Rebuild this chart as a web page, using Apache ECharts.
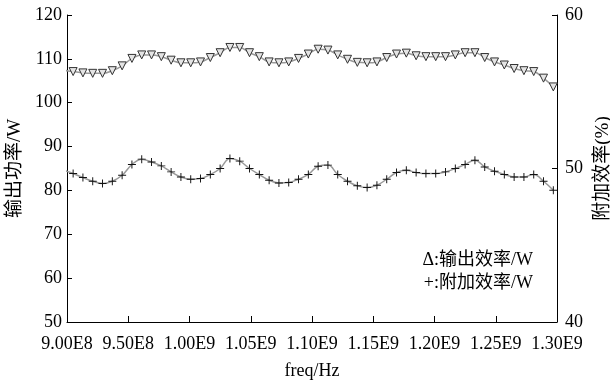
<!DOCTYPE html>
<html><head><meta charset="utf-8">
<script src="https://cdn.jsdelivr.net/npm/echarts@6/dist/echarts.min.js"></script>
<style>html,body{margin:0;padding:0;background:#fff}#c{width:610px;height:384px}</style>
</head><body><div id="c"></div>
<script>
var freqMHz = [897,905,913,921,929,937,945,953,961,969,977,985,993,1001,1009,1017,1025,1033,1041,1049,1057,1065,1073,1081,1089,1097,1105,1113,1121,1129,1137,1145,1153,1161,1169,1177,1185,1193,1201,1209,1217,1225,1233,1241,1249,1257,1265,1273,1281,1289,1297];
var outputPower = [107.4,107.1,106.8,106.7,106.7,107.3,108.4,110.1,110.9,110.9,110.5,109.7,109.1,109.1,109.3,110.3,111.4,112.6,112.6,111.4,110.5,109.3,109.1,109.3,110.1,111.1,112.2,112.0,110.9,109.9,109.2,109.1,109.3,110.3,111.1,111.3,110.7,110.5,110.5,110.5,110.9,111.4,111.4,110.3,109.3,108.6,107.8,107.3,107.1,105.6,103.6];
var pae = [49.89,49.67,49.41,49.17,49.02,49.17,49.56,50.26,50.61,50.43,50.17,49.78,49.45,49.30,49.35,49.61,50.00,50.65,50.48,50.00,49.61,49.24,49.06,49.09,49.30,49.61,50.15,50.22,49.61,49.17,48.87,48.76,48.91,49.30,49.74,49.89,49.74,49.67,49.67,49.78,50.00,50.26,50.54,50.10,49.82,49.61,49.45,49.45,49.61,49.17,48.58];
var legendLines = ['Δ:输出效率/W', '+:附加效率/W'];

var FONT = '"Liberation Serif", "Noto Sans CJK SC", serif';
function pairs(xs, ys){ return xs.map(function(x,i){ return [x, ys[i]]; }); }
function fmtHz(v){
  var hz = v * 1e6;
  var e = Math.floor(Math.log10(hz) + 1e-9);
  return (hz / Math.pow(10, e)).toFixed(2) + 'E' + e;
}
var chart = echarts.init(document.getElementById('c'));
var axisLine = {show:true, lineStyle:{color:'#000', width:1}};
chart.setOption({
  animation:false,
  backgroundColor:'#fff',
  grid:{left:67, right:53, top:15, bottom:62, outerBoundsMode:'none', containLabel:false},
  xAxis:{
    type:'value', min:900, max:1300, interval:50,
    axisLine:axisLine,
    axisTick:{show:true, inside:true, length:6, lineStyle:{color:'#000'}},
    splitLine:{show:false},
    axisLabel:{formatter:fmtHz, fontFamily:FONT, fontSize:18, color:'#000', margin:13},
    name:'freq/Hz', nameLocation:'middle', nameGap:40,
    nameTextStyle:{fontFamily:FONT, fontSize:18, color:'#000'}
  },
  yAxis:[{
    type:'value', min:50, max:120, interval:10, position:'left',
    axisLine:axisLine,
    axisTick:{show:true, inside:true, length:5, lineStyle:{color:'#000'}},
    splitLine:{show:false},
    axisLabel:{fontFamily:FONT, fontSize:18, color:'#000', margin:5},
    name:'输出功率/W', nameLocation:'middle', nameGap:37, nameRotate:90,
    nameTextStyle:{fontFamily:FONT, fontSize:19, color:'#000'}
  },{
    type:'value', min:40, max:60, interval:10, position:'right',
    axisLine:axisLine,
    axisTick:{show:true, inside:true, length:5, lineStyle:{color:'#000'}},
    splitLine:{show:false},
    axisLabel:{fontFamily:FONT, fontSize:18, color:'#000', margin:8},
    name:'附加效率(%)', nameLocation:'middle', nameGap:35, nameRotate:90,
    nameTextStyle:{fontFamily:FONT, fontSize:19, color:'#000'}
  }],
  series:[{
    type:'line', yAxisIndex:0, data:pairs(freqMHz, outputPower), smooth:0.4,
    lineStyle:{color:'#999', width:1.5},
    symbol:'triangle', symbolRotate:180, symbolSize:8,
    itemStyle:{color:'#e4e4e4', borderColor:'#333', borderWidth:1}
  },{
    type:'line', yAxisIndex:1, data:pairs(freqMHz, pae), smooth:0.4,
    lineStyle:{color:'#999', width:1.5},
    symbol:'path://M4.4,0h1.2v4.4h4.4v1.2h-4.4v4.4h-1.2v-4.4h-4.4v-1.2h4.4z', symbolSize:8,
    itemStyle:{color:'#111', borderWidth:0}
  }],
  graphic:[{
    type:'text', right:77, top:251,
    style:{text:legendLines[0], font:'18px ' + FONT, fill:'#000', textAlign:'right'}
  },{
    type:'text', right:77, top:274,
    style:{text:legendLines[1], font:'18px ' + FONT, fill:'#000', textAlign:'right'}
  }]
});
</script></body></html>
